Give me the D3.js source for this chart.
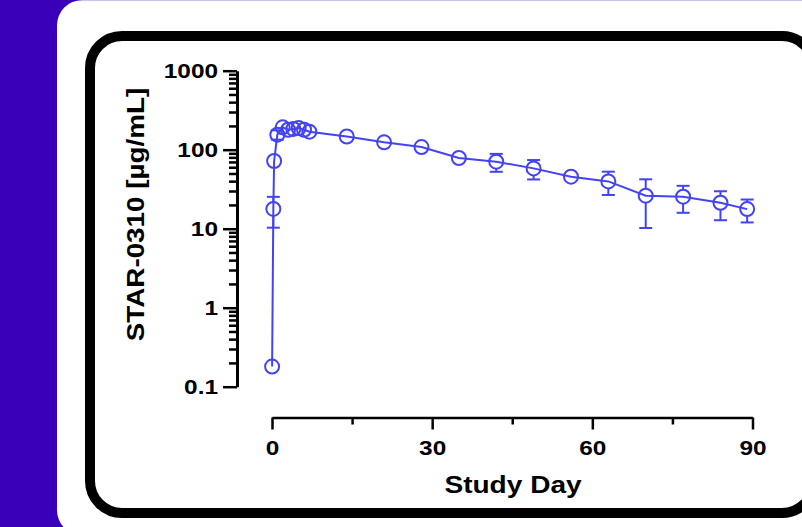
<!DOCTYPE html>
<html>
<head>
<meta charset="utf-8">
<script src="https://cdn.jsdelivr.net/npm/d3@7"></script>
<style>
  body { margin: 0; background: #3a00b9; }
  svg { display: block; }
  text { font-family: "Liberation Sans", Arial, sans-serif; font-weight: bold; fill: #000; }
</style>
</head>
<body>
<svg></svg>
<script>
var width = 802,
    height = 527;

// study day of each sample
var days = [0.02, 0.25, 0.4, 1, 2, 3, 4, 5, 6, 7, 14, 21, 28, 35, 42, 49, 56, 63, 70, 77, 84, 89];
// mean concentration (ug/mL)
var means = [0.18, 17.8, 72, 155, 192, 179, 183, 188, 179, 169, 147, 124, 108, 78.5, 70.5, 58, 45.5, 39.7, 26.2, 25.4, 21.3, 17.7];
// standard deviation
var sds = [0, 7.5, 0, 21, 0, 0, 0, 0, 0, 0, 0, 0, 0, 0, 18, 16, 0, 13, 16, 9.5, 8.5, 5.7];

var yMajor = [0.1, 1, 10, 100, 1000];
var xTicks = [0, 15, 30, 45, 60, 75, 90];
var xLabels = [0, 30, 60, 90];

var blue = "#4343f5";
var stretch = 1.22;

var svg = d3.select("svg")
    .attr("width", width)
    .attr("height", height);

// white card on purple background
svg.append("rect")
    .attr("x", 57).attr("y", 0.2)
    .attr("width", 800).attr("height", 535)
    .attr("rx", 25)
    .attr("fill", "#fff");

// black rounded frame
svg.append("rect")
    .attr("x", 90).attr("y", 36)
    .attr("width", 724).attr("height", 477)
    .attr("rx", 32).attr("ry", 32)
    .attr("fill", "none")
    .attr("stroke", "#000")
    .attr("stroke-width", 10);

var x = d3.scaleLinear().domain([0, 90]).range([272, 752.5]);
var y = d3.scaleLog().domain([0.1, 1000]).range([386.7, 70.7]);

// y axis, major + minor ticks
var yTickVals = [];
yMajor.forEach(function(m, i) {
  yTickVals.push(m);
  if (i < yMajor.length - 1) {
    for (var k = 2; k <= 9; k++) yTickVals.push(m * k);
  }
});

var yAxis = svg.append("g")
    .attr("transform", "translate(237,0)")
    .call(d3.axisLeft(y)
      .tickValues(yTickVals)
      .tickSize(14)
      .tickSizeOuter(0)
      .tickPadding(5)
      .tickFormat(function(d) { return yMajor.indexOf(d) >= 0 ? d3.format("~g")(d) : ""; }));

yAxis.select(".domain").attr("stroke-width", 3);
yAxis.selectAll(".tick line")
    .attr("stroke-width", 2.5)
    .attr("x2", function(d) { return yMajor.indexOf(d) >= 0 ? -14 : -8; });
yAxis.selectAll(".tick text")
    .attr("font-size", 20)
    .attr("font-family", null)
    .attr("x", -19 / stretch)
    .attr("transform", "scale(" + stretch + ",1)");

// x axis
var xAxis = svg.append("g")
    .attr("transform", "translate(0,417.5)")
    .call(d3.axisBottom(x)
      .tickValues(xTicks)
      .tickSize(12)
      .tickSizeOuter(0)
      .tickPadding(11.3)
      .tickFormat(function(d) { return xLabels.indexOf(d) >= 0 ? d : ""; }));

xAxis.select(".domain").attr("stroke-width", 2.5);
xAxis.selectAll(".tick line")
    .attr("stroke-width", 2.5)
    .attr("y2", function(d) { return xLabels.indexOf(d) >= 0 ? 12 : 7; });
xAxis.selectAll(".tick text")
    .attr("font-size", 20)
    .attr("font-family", null)
    .attr("transform", "scale(" + stretch + ",1)")
    .attr("x", 0);
// keep labels centred under ticks after the scale
xAxis.selectAll(".tick").each(function(d) {
  d3.select(this).select("text")
    .attr("transform", null)
    .attr("transform", "scale(" + stretch + ",1)");
});

// axis titles
svg.append("text")
    .attr("transform", "translate(513,492.5) scale(1.22,1)")
    .attr("text-anchor", "middle")
    .attr("font-size", 23)
    .text("Study Day");

svg.append("text")
    .attr("transform", "translate(144,214.5) rotate(-90) scale(1.21,1)")
    .attr("text-anchor", "middle")
    .attr("font-size", 23)
    .text("STAR-0310 [µg/mL]");

// data
var pts = days.map(function(d, i) { return { day: d, mean: means[i], sd: sds[i] }; });
var r = 7;

var line = d3.line()
    .x(function(d) { return x(d.day); })
    .y(function(d) { return y(d.mean); });

var plot = svg.append("g")
    .attr("stroke", blue)
    .attr("fill", "none")
    .attr("stroke-width", 2);

plot.append("path")
    .datum(pts)
    .attr("d", line);

var bars = plot.selectAll(".err")
    .data(pts.filter(function(d) { return d.sd > 0; }))
    .enter().append("g")
    .attr("class", "err");

bars.each(function(d) {
  var g = d3.select(this),
      cx = x(d.day),
      cy = y(d.mean),
      top = y(d.mean + d.sd),
      bot = y(d.mean - d.sd);
  if (cy - r > top) {
    g.append("line").attr("x1", cx).attr("x2", cx).attr("y1", top).attr("y2", cy - r);
  }
  g.append("line").attr("x1", cx - 6.5).attr("x2", cx + 6.5).attr("y1", top).attr("y2", top);
  if (bot > cy + r) {
    g.append("line").attr("x1", cx).attr("x2", cx).attr("y1", cy + r).attr("y2", bot);
  }
  g.append("line").attr("x1", cx - 6.5).attr("x2", cx + 6.5).attr("y1", bot).attr("y2", bot);
});

plot.selectAll("circle")
    .data(pts)
    .enter().append("circle")
    .attr("cx", function(d) { return x(d.day); })
    .attr("cy", function(d) { return y(d.mean); })
    .attr("r", r);
</script>
</body>
</html>
